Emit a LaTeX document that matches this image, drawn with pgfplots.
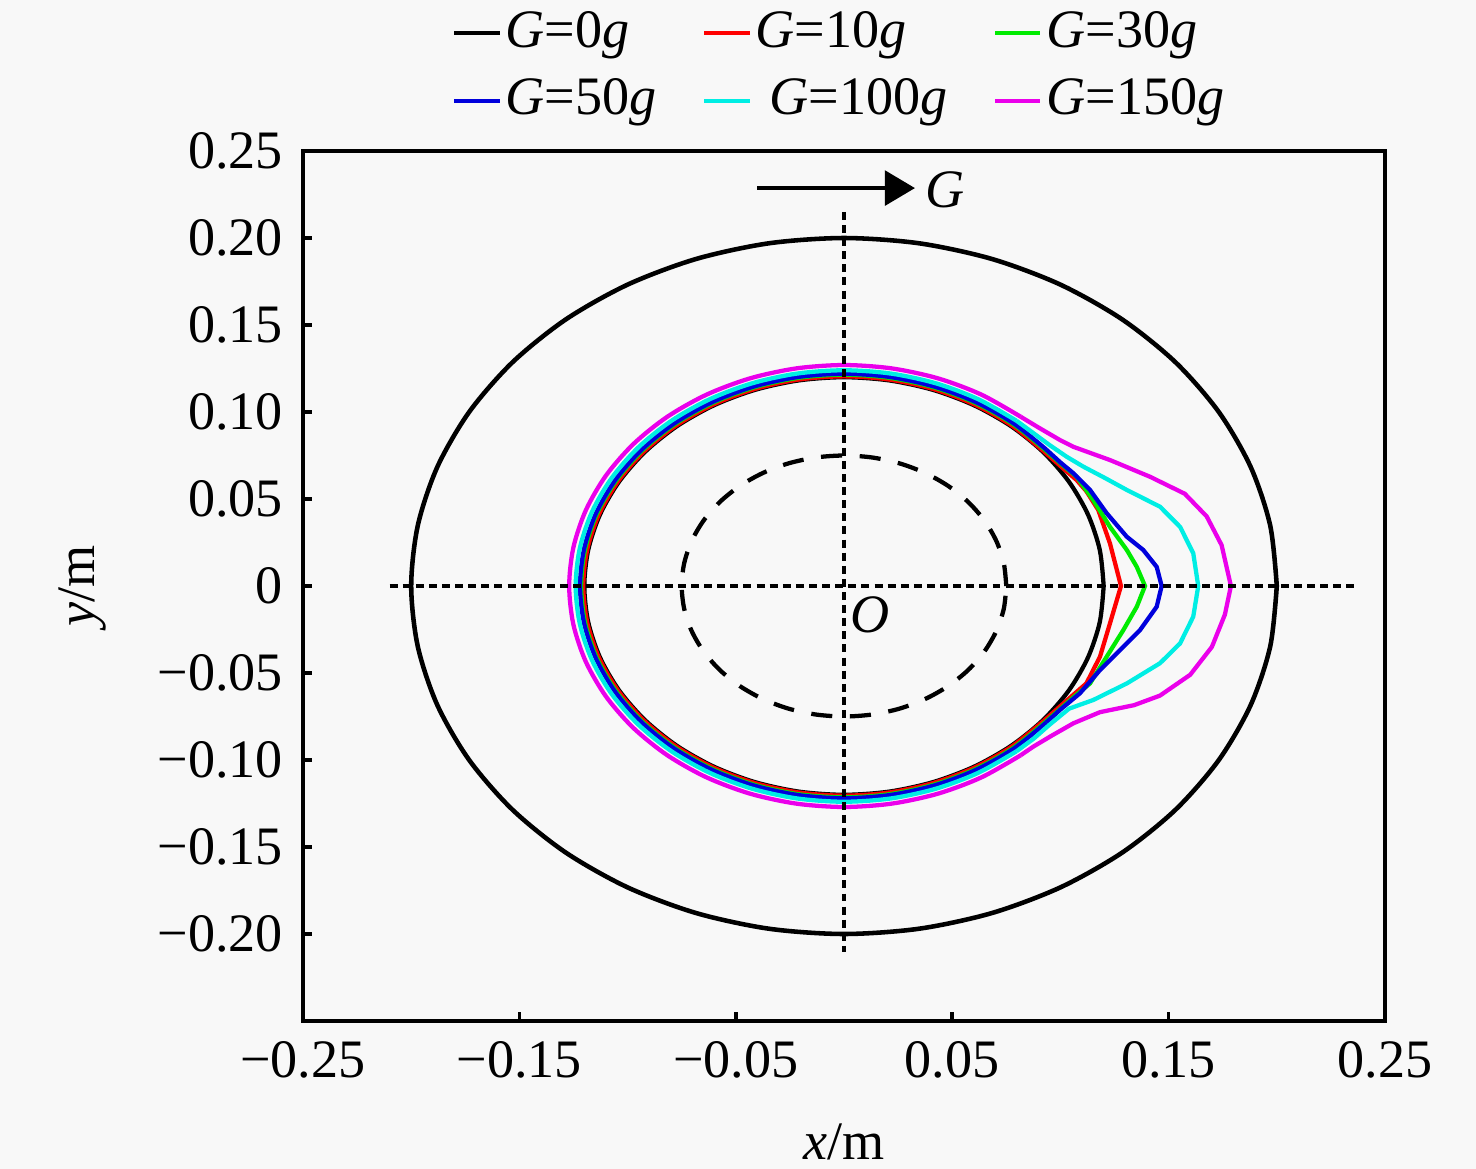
\documentclass[border=0pt]{standalone}
\usepackage{fontspec}
\setmainfont{Liberation Serif}
\usepackage{pgfplots}
\pgfplotsset{compat=1.18}
\usetikzlibrary{arrows.meta}
\definecolor{bg}{HTML}{F8F8F8}
\definecolor{cR}{RGB}{255,0,0}
\definecolor{cG}{RGB}{0,235,0}
\definecolor{cB}{RGB}{0,0,220}
\definecolor{cC}{RGB}{0,238,228}
\definecolor{cM}{RGB}{235,0,235}
\newcommand{\fsz}{\fontsize{9.5}{11}\selectfont}
\pagecolor{bg}
\begin{document}
\begin{tikzpicture}
\begin{axis}[
  scale only axis, width=189.86pt, height=152.66pt,
  xmin=-0.25, xmax=0.25, ymin=-0.25, ymax=0.25,
  axis line style={line width=0.8pt},
  every tick/.style={line width=0.6pt, black},
  tick align=inside, tick pos=left, major tick length=1.5pt,
  xtick={-0.25,-0.15,-0.05,0.05,0.15,0.25},
  xticklabels={−0.25,−0.15,−0.05,0.05,0.15,0.25},
  ytick={-0.2,-0.15,-0.1,-0.05,0,0.05,0.1,0.15,0.2,0.25},
  yticklabels={−0.20,−0.15,−0.10,−0.05,0,0.05,0.10,0.15,0.20,0.25},
  every tick label/.append style={font=\fsz},
  label style={font=\fsz},
  xlabel={\textit{x}/m}, ylabel={\textit{y}/m},
  x label style={at={(axis description cs:0.5,-0.139)},anchor=center},
  y label style={at={(axis description cs:-0.204,0.5)},anchor=center},
  legend columns=3,
  legend cell align=left,
  legend style={font=\fsz, draw=none, fill=none, at={(0.5,1.0966)}, anchor=center,
    /tikz/every even column/.append style={column sep=6pt},
    /tikz/every odd column/.append style={column sep=-1.3pt}},
  legend image code/.code={\draw[#1] (0cm,0cm) -- (0.28cm,0cm);},
]
% outer circle
\addplot[black, line width=0.8pt, smooth, forget plot] coordinates {
(0.2,0) (0.19696,0.03473) (0.18794,0.0684) (0.17321,0.1) (0.15321,0.12856) (0.12856,0.15321) (0.1,0.17321) (0.0684,0.18794) (0.03473,0.19696) (0,0.2)
(-0.03473,0.19696) (-0.0684,0.18794) (-0.1,0.17321) (-0.12856,0.15321) (-0.15321,0.12856) (-0.17321,0.1) (-0.18794,0.0684) (-0.19696,0.03473) (-0.2,0)
(-0.19696,-0.03473) (-0.18794,-0.0684) (-0.17321,-0.1) (-0.15321,-0.12856) (-0.12856,-0.15321) (-0.1,-0.17321) (-0.0684,-0.18794) (-0.03473,-0.19696) (0,-0.2)
(0.03473,-0.19696) (0.0684,-0.18794) (0.1,-0.17321) (0.12856,-0.15321) (0.15321,-0.12856) (0.17321,-0.1) (0.18794,-0.0684) (0.19696,-0.03473) (0.2,0)
};
% dashed circle
\addplot[black, line width=0.75pt, smooth, dash pattern=on 3.7pt off 3.1pt, forget plot] coordinates {
(0.075,0) (0.07386,0.01302) (0.07048,0.02565) (0.06495,0.0375) (0.05745,0.04821) (0.04821,0.05745) (0.0375,0.06495) (0.02565,0.07048) (0.01302,0.07386) (0,0.075)
(-0.01302,0.07386) (-0.02565,0.07048) (-0.0375,0.06495) (-0.04821,0.05745) (-0.05745,0.04821) (-0.06495,0.0375) (-0.07048,0.02565) (-0.07386,0.01302) (-0.075,0)
(-0.07386,-0.01302) (-0.07048,-0.02565) (-0.06495,-0.0375) (-0.05745,-0.04821) (-0.04821,-0.05745) (-0.0375,-0.06495) (-0.02565,-0.07048) (-0.01302,-0.07386) (0,-0.075)
(0.01302,-0.07386) (0.02565,-0.07048) (0.0375,-0.06495) (0.04821,-0.05745) (0.05745,-0.04821) (0.06495,-0.0375) (0.07048,-0.02565) (0.07386,-0.01302) (0.075,0)
};
% G=0g
\addplot[black, line width=0.75pt, smooth] coordinates {
(0.12,0) (0.11818,0.02084) (0.11276,0.04104) (0.10392,0.06) (0.09192,0.07713) (0.07713,0.09192) (0.06,0.10392) (0.04104,0.11276) (0.02084,0.11818) (0,0.12)
(-0.02084,0.11818) (-0.04104,0.11276) (-0.06,0.10392) (-0.07713,0.09192) (-0.09192,0.07713) (-0.10392,0.06) (-0.11276,0.04104) (-0.11818,0.02084) (-0.12,0)
(-0.11818,-0.02084) (-0.11276,-0.04104) (-0.10392,-0.06) (-0.09192,-0.07713) (-0.07713,-0.09192) (-0.06,-0.10392) (-0.04104,-0.11276) (-0.02084,-0.11818) (0,-0.12)
(0.02084,-0.11818) (0.04104,-0.11276) (0.06,-0.10392) (0.07713,-0.09192) (0.09192,-0.07713) (0.10392,-0.06) (0.11276,-0.04104) (0.11818,-0.02084) (0.12,0)
};
\addlegendentry{\textit{G}=0\textit{g}}
% G=10g
\addplot[cR, line width=0.75pt, smooth, forget plot] coordinates {
(0.09231,0.07746) (0.07746,0.09231) (0.06025,0.10436) (0.04121,0.11323) (0.02092,0.11867) (0,0.1205) (-0.02092,0.11867) (-0.04121,0.11323) (-0.06025,0.10436) (-0.07746,0.09231) (-0.09231,0.07746) (-0.10436,0.06025) (-0.11323,0.04121) (-0.11867,0.02092) (-0.1205,0) (-0.11867,-0.02092) (-0.11323,-0.04121) (-0.10436,-0.06025) (-0.09231,-0.07746) (-0.07746,-0.09231) (-0.06025,-0.10436) (-0.04121,-0.11323) (-0.02092,-0.11867) (0,-0.1205) (0.02092,-0.11867) (0.04121,-0.11323) (0.06025,-0.10436) (0.07746,-0.09231) (0.09231,-0.07746)
};
\addplot[cR, line width=0.75pt] coordinates {
(0.09231,-0.07746) (0.1000,-0.0690) (0.1060,-0.0625) (0.1120,-0.0560) (0.1183,-0.0406) (0.1229,-0.0215) (0.1280,0) (0.1229,0.0245) (0.1175,0.0437) (0.1120,0.0545) (0.1075,0.0609) (0.1000,0.0690) (0.09231,0.07746)
};
\addlegendentry{\textit{G}=10\textit{g}}
% G=30g
\addplot[cG, line width=0.75pt, smooth, forget plot] coordinates {
(0.09307,0.0781) (0.0781,0.09307) (0.06075,0.10522) (0.04156,0.11417) (0.0211,0.11965) (0,0.1215) (-0.0211,0.11965) (-0.04156,0.11417) (-0.06075,0.10522) (-0.0781,0.09307) (-0.09307,0.0781) (-0.10522,0.06075) (-0.11417,0.04156) (-0.11965,0.0211) (-0.1215,0) (-0.11965,-0.0211) (-0.11417,-0.04156) (-0.10522,-0.06075) (-0.09307,-0.0781) (-0.0781,-0.09307) (-0.06075,-0.10522) (-0.04156,-0.11417) (-0.0211,-0.11965) (0,-0.1215) (0.0211,-0.11965) (0.04156,-0.11417) (0.06075,-0.10522) (0.0781,-0.09307) (0.09307,-0.0781)
};
\addplot[cG, line width=0.75pt] coordinates {
(0.09307,-0.0781) (0.1000,-0.0705) (0.1060,-0.0640) (0.1137,-0.0560) (0.1214,-0.0406) (0.1291,-0.0253) (0.1353,-0.0119) (0.1391,0) (0.1353,0.0110) (0.1307,0.0207) (0.1229,0.0340) (0.1152,0.0494) (0.1075,0.0628) (0.1005,0.0700) (0.09307,0.0781)
};
\addlegendentry{\textit{G}=30\textit{g}}
% G=50g
\addplot[cB, line width=0.75pt, smooth, forget plot] coordinates {
(0.09346,0.07842) (0.07842,0.09346) (0.061,0.10566) (0.04173,0.11464) (0.02119,0.12015) (0,0.122) (-0.02119,0.12015) (-0.04173,0.11464) (-0.061,0.10566) (-0.07842,0.09346) (-0.09346,0.07842) (-0.10566,0.061) (-0.11464,0.04173) (-0.12015,0.02119) (-0.122,0) (-0.12015,-0.02119) (-0.11464,-0.04173) (-0.10566,-0.061) (-0.09346,-0.07842) (-0.07842,-0.09346) (-0.061,-0.10566) (-0.04173,-0.11464) (-0.02119,-0.12015) (0,-0.122) (0.02119,-0.12015) (0.04173,-0.11464) (0.061,-0.10566) (0.07842,-0.09346) (0.09346,-0.07842)
};
\addplot[cB, line width=0.75pt] coordinates {
(0.09346,-0.07842) (0.1000,-0.0710) (0.1090,-0.0617) (0.1183,-0.0483) (0.1276,-0.0368) (0.1368,-0.0253) (0.1445,-0.0119) (0.1468,0) (0.1445,0.0110) (0.1383,0.0207) (0.1307,0.0283) (0.1214,0.0418) (0.1137,0.0552) (0.1060,0.0648) (0.1000,0.0710) (0.09346,0.07842)
};
\addlegendentry{\textit{G}=50\textit{g}}
% G=100g
\addplot[cC, line width=0.75pt, smooth, forget plot] coordinates {
(0.07971,0.09499) (0.062,0.10739) (0.04241,0.11652) (0.02153,0.12212) (0,0.124) (-0.02153,0.12212) (-0.04241,0.11652) (-0.062,0.10739) (-0.07971,0.09499) (-0.09499,0.07971) (-0.10739,0.062) (-0.11652,0.04241) (-0.12212,0.02153) (-0.124,0) (-0.12212,-0.02153) (-0.11652,-0.04241) (-0.10739,-0.062) (-0.09499,-0.07971) (-0.07971,-0.09499) (-0.062,-0.10739) (-0.04241,-0.11652) (-0.02153,-0.12212) (0,-0.124) (0.02153,-0.12212) (0.04241,-0.11652) (0.062,-0.10739) (0.07971,-0.09499)
};
\addplot[cC, line width=0.75pt] coordinates {
(0.07971,-0.09499) (0.0877,-0.0877) (0.0950,-0.0797) (0.1040,-0.0705) (0.1152,-0.0655) (0.1307,-0.0560) (0.1460,-0.0444) (0.1553,-0.0330) (0.1614,-0.0176) (0.1637,0) (0.1614,0.0188) (0.1553,0.0340) (0.1460,0.0456) (0.1307,0.0552) (0.1207,0.0620) (0.1106,0.0686) (0.1029,0.0743) (0.0950,0.0810) (0.0877,0.0877) (0.07971,0.09499)
};
\addlegendentry{\ \textit{G}=100\textit{g}}
% G=150g
\addplot[cM, line width=0.75pt, smooth, forget plot] coordinates {
(0.08163,0.09729) (0.0635,0.10999) (0.04344,0.11934) (0.02205,0.12507) (0,0.127) (-0.02205,0.12507) (-0.04344,0.11934) (-0.0635,0.10999) (-0.08163,0.09729) (-0.09729,0.08163) (-0.10999,0.0635) (-0.11934,0.04344) (-0.12507,0.02205) (-0.127,0) (-0.12507,-0.02205) (-0.11934,-0.04344) (-0.10999,-0.0635) (-0.09729,-0.08163) (-0.08163,-0.09729) (-0.0635,-0.10999) (-0.04344,-0.11934) (-0.02205,-0.12507) (0,-0.127) (0.02205,-0.12507) (0.04344,-0.11934) (0.0635,-0.10999) (0.08163,-0.09729)
};
\addplot[cM, line width=0.75pt] coordinates {
(0.08163,-0.09729) (0.0875,-0.0923) (0.0960,-0.0860) (0.1060,-0.0789) (0.1183,-0.0725) (0.1340,-0.0685) (0.1460,-0.0630) (0.1600,-0.0510) (0.1700,-0.0350) (0.1760,-0.0165) (0.1788,0) (0.1745,0.0235) (0.1676,0.0400) (0.1575,0.0530) (0.1414,0.0628) (0.1229,0.0724) (0.1060,0.0800) (0.0998,0.0839) (0.0900,0.0910) (0.08163,0.09729)
};
\addlegendentry{\textit{G}=150\textit{g}}
% dotted axes lines
\addplot[black, line width=0.7pt, dash pattern=on 1.4pt off 0.9pt, forget plot] coordinates {(-0.21,0) (0.2357,0)};
\addplot[black, line width=0.7pt, dash pattern=on 1.4pt off 0.9pt, forget plot] coordinates {(0,0.215) (0,-0.2103)};
% arrow
\addplot[black, line width=0.7pt, -{Triangle[length=5.3pt,width=6.1pt]}, forget plot] coordinates {(-0.0402,0.2287) (0.0328,0.2287)};
\node[font=\fsz] at (axis cs:0.0467,0.2276) {\textit{G}};
\node[font=\fsz] at (axis cs:0.012,-0.0167) {\textit{O}};
\end{axis}
\pgfresetboundingbox
\path ([shift={(-53.17pt,-25.97pt)}]current axis.south west) rectangle ([shift={(15.97pt,26.50pt)}]current axis.north east);
\end{tikzpicture}
\end{document}
